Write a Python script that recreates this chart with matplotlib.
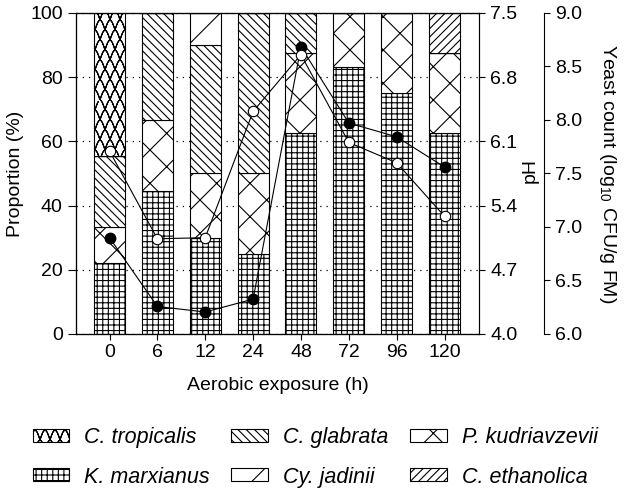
import warnings
import numpy as np
import matplotlib
matplotlib.use('Agg')
import matplotlib.pyplot as plt
import matplotlib.hatch as mhatch
from matplotlib.path import Path

warnings.filterwarnings('ignore')

hours = ['0', '6', '12', '24', '48', '72', '96', '120']

# proportion (%) of each yeast species at each time point
k_marxianus = [22.2, 44.4, 30.0, 25.0, 62.5, 83.3, 75.0, 62.5]
p_kudriavzevii = [11.1, 22.2, 20.0, 25.0, 25.0, 16.7, 25.0, 25.0]
c_glabrata = [22.2, 33.4, 40.0, 50.0, 12.5, 0, 0, 0]
cy_jadinii = [0, 0, 10.0, 0, 0, 0, 0, 0]
c_ethanolica = [0, 0, 0, 0, 0, 0, 0, 12.5]
c_tropicalis = [44.5, 0, 0, 0, 0, 0, 0, 0]

ph = [5.05, 4.30, 4.24, 4.38, 7.13, 6.30, 6.15, 5.82]
yeast = [7.71, 6.89, 6.90, 8.08, 8.61, 7.79, 7.60, 7.10]


class ScaleHatch(mhatch.HatchPatternBase):
    # wavy "scales" pattern, used with the letter 'c'
    # agg fills hatch paths, so each row goes out and back (zero area)
    def __init__(self, hatch, density):
        n = hatch.count('c')
        self.cols = int(n * density * 5 / 3)
        self.rows = self.cols - self.cols % 2
        self.pts = self.cols * 8 + 1
        self.num_vertices = self.rows * self.pts * 2 if n else 0

    def set_vertices_and_codes(self, vertices, codes):
        w = 1.0 / self.cols
        h = 1.0 / self.rows
        x = np.linspace(0, 1, self.pts)
        xx = np.concatenate([x, x[::-1]])
        m = len(xx)
        for j in range(self.rows):
            off = (j % 2) * w / 2
            y = j * h + h * np.abs(np.sin(np.pi * (xx - off) / w))
            sl = slice(j * m, (j + 1) * m)
            vertices[sl, 0] = xx
            vertices[sl, 1] = y
            codes[sl] = Path.LINETO
            codes[j * m] = Path.MOVETO


mhatch._hatch_types.append(ScaleHatch)

plt.rcParams['font.family'] = 'Liberation Sans'
plt.rcParams['font.size'] = 14
plt.rcParams['hatch.linewidth'] = 0.8

fig = plt.figure(figsize=(6.24, 4.94), dpi=100)
ax = fig.add_axes([0.1218, 0.3239, 0.6458, 0.6498])

x = np.arange(len(hours))
stack = [
    ('K. marxianus', k_marxianus, '+++'),
    ('P. kudriavzevii', p_kudriavzevii, 'x'),
    ('C. glabrata', c_glabrata, '\\\\\\\\'),
    ('Cy. jadinii', cy_jadinii, '/'),
    ('C. ethanolica', c_ethanolica, '////'),
    ('C. tropicalis', c_tropicalis, 'c'),
]
bottom = np.zeros(len(hours))
handles = {}
for name, vals, hatch in stack:
    vals = np.array(vals, dtype=float)
    b = ax.bar(x, vals, 0.65, bottom=bottom, color='white', edgecolor='black',
               linewidth=0.8, hatch=hatch, label=name, zorder=2)
    handles[name] = b
    bottom += vals

ax.set_xlim(-0.7, 7.72)
ax.set_ylim(0, 100)
ax.set_yticks([0, 20, 40, 60, 80, 100])
ax.set_xticks(x, hours)
ax.yaxis.grid(True, linestyle=(0, (1, 4)), color='black', linewidth=0.9, zorder=0)
ax.set_axisbelow(True)
ax.tick_params(axis='y', direction='out', length=6, width=0.8)
ax.tick_params(axis='x', direction='out', length=4, width=0.8)
for s in ax.spines.values():
    s.set_linewidth(0.8)
ax.set_ylabel('Proportion (%)')
ax.yaxis.set_label_coords(-0.128, 0.5)
ax.set_xlabel('Aerobic exposure (h)')
ax.xaxis.set_label_coords(0.5, -0.135)

ax2 = ax.twinx()
ax2.plot(x, ph, color='black', lw=0.8, marker='o', ms=7.5, mfc='black', mec='black')
ax2.set_ylim(4.0, 7.5)
ax2.set_yticks([4.0, 4.7, 5.4, 6.1, 6.8, 7.5])
ax2.set_yticklabels(['4.0', '4.7', '5.4', '6.1', '6.8', '7.5'])
ax2.tick_params(axis='y', direction='out', length=4.5, width=0.8)
ax2.set_ylabel('pH')
ax2.yaxis.set_label_coords(1.106, 0.51)

ax3 = ax.twinx()
ax3.plot(x, yeast, color='black', lw=0.8, marker='o', ms=7.5, mfc='white', mec='black', mew=0.8)
ax3.set_ylim(6.0, 9.0)
ax3.set_yticks([6.0, 6.5, 7.0, 7.5, 8.0, 8.5, 9.0])
ax3.set_yticklabels(['6.0', '6.5', '7.0', '7.5', '8.0', '8.5', '9.0'])
ax3.spines['right'].set_position(('axes', 1.161))
ax3.spines['right'].set_linewidth(0.8)
ax3.tick_params(axis='y', direction='out', length=4.5, width=0.8)
ax3.set_ylabel('Yeast count (log$_\\mathregular{10}$ CFU/g FM)', rotation=270, va='center')
ax3.yaxis.set_label_coords(1.318, 0.5)

order = ['C. tropicalis', 'K. marxianus', 'C. glabrata', 'Cy. jadinii',
         'P. kudriavzevii', 'C. ethanolica']
leg = fig.legend([handles[n] for n in order], order, ncol=3, frameon=False,
                 loc='center', bbox_to_anchor=(0.505, 0.074),
                 prop={'style': 'italic', 'size': 15.5},
                 handlelength=1.7, handleheight=0.55, handletextpad=0.7,
                 columnspacing=1.0, labelspacing=0.85)

fig.savefig('out.png', dpi=100)
